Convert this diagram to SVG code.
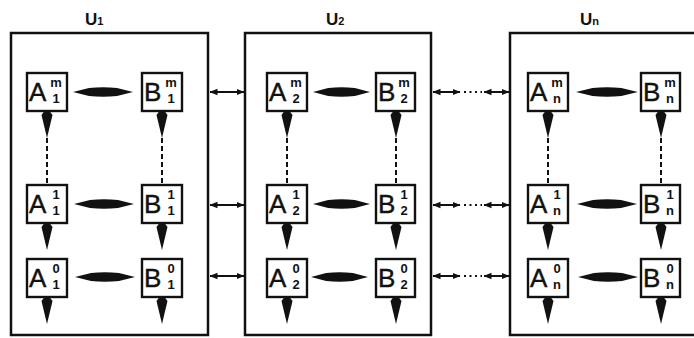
<svg xmlns="http://www.w3.org/2000/svg" xmlns:xlink="http://www.w3.org/1999/xlink" width="694" height="338" viewBox="0 0 694 338">
  <style>
    .frame { fill: none; stroke: #111; stroke-width: 2.5; }
    .cell { fill: #fff; stroke: #111; stroke-width: 2.4; }
    .big { font-family: "Liberation Sans", Arial, sans-serif; font-size: 26px; fill: #111; stroke: #111; stroke-width: 0.4; }
    .idx { font-family: "Liberation Sans", Arial, sans-serif; font-size: 13px; font-weight: bold; fill: #111; text-anchor: middle; }
    .title { font-family: "Liberation Sans", Arial, sans-serif; font-size: 17px; font-weight: bold; fill: #111; }
    .title-sub { font-size: 11px; }
    .link { stroke: #111; stroke-width: 2; fill: none; }
    .dash { stroke: #111; stroke-width: 2; stroke-dasharray: 5 3; fill: none; }
    .dots { stroke: #111; stroke-width: 2.2; stroke-dasharray: 2 3.5; fill: none; }
    .solid { fill: #111; }
  </style>
  <defs>
    <marker id="tip" viewBox="0 0 8 8" refX="7.5" refY="4" markerWidth="8" markerHeight="8" markerUnits="userSpaceOnUse" orient="auto-start-reverse">
      <path d="M0,0.8 L8,4 L0,7.2 Z" fill="#111"/>
    </marker>
    <!-- downward wedge arrow, origin at top centre -->
    <path id="down" class="solid" d="M-2.5,0 H2.5 L5.5,4 L0,27 L-5.5,4 Z"/>
    <!-- two-headed bold bar with pointed ends, origin at left tip, 60 wide -->
    <path id="lens" class="solid" d="M0,0 L16,-4 Q30,-5.5 44,-4 L60,0 L44,4 Q30,5.5 16,4 Z"/>
  </defs>

  <rect width="694" height="338" fill="#fff"/>

  <!-- unit containers -->
  <g id="unit-1">
    <rect class="frame" x="11" y="33" width="197" height="302"/>
    <text class="title" x="85" y="25">U<tspan class="title-sub">1</tspan></text>
  </g>
  <g id="unit-2">
    <rect class="frame" x="245" y="33" width="186" height="302"/>
    <text class="title" x="326" y="25">U<tspan class="title-sub">2</tspan></text>
  </g>
  <g id="unit-n">
    <rect class="frame" x="510" y="33" width="200" height="302"/>
    <text class="title" x="580" y="25">U<tspan class="title-sub">n</tspan></text>
  </g>

  <!-- cells: unit 1 -->
  <g id="A1m"><rect class="cell" x="27" y="73" width="40" height="38"/><text class="big" x="29" y="101">A</text><text class="idx" x="56" y="87">m</text><text class="idx" x="56" y="103">1</text></g>
  <g id="B1m"><rect class="cell" x="142" y="73" width="40" height="38"/><text class="big" x="144" y="101">B</text><text class="idx" x="171" y="87">m</text><text class="idx" x="171" y="103">1</text></g>
  <g id="A1-1"><rect class="cell" x="27" y="185" width="40" height="38"/><text class="big" x="29" y="213">A</text><text class="idx" x="56" y="199">1</text><text class="idx" x="56" y="215">1</text></g>
  <g id="B1-1"><rect class="cell" x="142" y="185" width="40" height="38"/><text class="big" x="144" y="213">B</text><text class="idx" x="171" y="199">1</text><text class="idx" x="171" y="215">1</text></g>
  <g id="A1-0"><rect class="cell" x="27" y="259" width="40" height="38"/><text class="big" x="29" y="287">A</text><text class="idx" x="56" y="273">0</text><text class="idx" x="56" y="289">1</text></g>
  <g id="B1-0"><rect class="cell" x="142" y="259" width="40" height="38"/><text class="big" x="144" y="287">B</text><text class="idx" x="171" y="273">0</text><text class="idx" x="171" y="289">1</text></g>

  <!-- cells: unit 2 -->
  <g id="A2m"><rect class="cell" x="267" y="73" width="40" height="38"/><text class="big" x="269" y="101">A</text><text class="idx" x="296" y="87">m</text><text class="idx" x="296" y="103">2</text></g>
  <g id="B2m"><rect class="cell" x="376" y="73" width="39" height="38"/><text class="big" x="378" y="101">B</text><text class="idx" x="404" y="87">m</text><text class="idx" x="404" y="103">2</text></g>
  <g id="A2-1"><rect class="cell" x="267" y="185" width="40" height="38"/><text class="big" x="269" y="213">A</text><text class="idx" x="296" y="199">1</text><text class="idx" x="296" y="215">2</text></g>
  <g id="B2-1"><rect class="cell" x="376" y="185" width="39" height="38"/><text class="big" x="378" y="213">B</text><text class="idx" x="404" y="199">1</text><text class="idx" x="404" y="215">2</text></g>
  <g id="A2-0"><rect class="cell" x="267" y="259" width="40" height="38"/><text class="big" x="269" y="287">A</text><text class="idx" x="296" y="273">0</text><text class="idx" x="296" y="289">2</text></g>
  <g id="B2-0"><rect class="cell" x="376" y="259" width="39" height="38"/><text class="big" x="378" y="287">B</text><text class="idx" x="404" y="273">0</text><text class="idx" x="404" y="289">2</text></g>

  <!-- cells: unit n -->
  <g id="Anm"><rect class="cell" x="528" y="73" width="40" height="38"/><text class="big" x="530" y="101">A</text><text class="idx" x="557" y="87">m</text><text class="idx" x="557" y="103">n</text></g>
  <g id="Bnm"><rect class="cell" x="641" y="73" width="39" height="38"/><text class="big" x="643" y="101">B</text><text class="idx" x="670" y="87">m</text><text class="idx" x="670" y="103">n</text></g>
  <g id="An-1"><rect class="cell" x="528" y="185" width="40" height="38"/><text class="big" x="530" y="213">A</text><text class="idx" x="557" y="199">1</text><text class="idx" x="557" y="215">n</text></g>
  <g id="Bn-1"><rect class="cell" x="641" y="185" width="39" height="38"/><text class="big" x="643" y="213">B</text><text class="idx" x="670" y="199">1</text><text class="idx" x="670" y="215">n</text></g>
  <g id="An-0"><rect class="cell" x="528" y="259" width="40" height="38"/><text class="big" x="530" y="287">A</text><text class="idx" x="557" y="273">0</text><text class="idx" x="557" y="289">n</text></g>
  <g id="Bn-0"><rect class="cell" x="641" y="259" width="39" height="38"/><text class="big" x="643" y="287">B</text><text class="idx" x="670" y="273">0</text><text class="idx" x="670" y="289">n</text></g>

  <g id="connectors">
    <!-- A/B exchange bars -->
    <use href="#lens" x="73" y="92"/>
    <use href="#lens" x="74" y="204"/>
    <use href="#lens" x="75" y="277"/>
    <use href="#lens" x="0" y="92" transform="translate(313 0) scale(0.95 1)"/>
    <use href="#lens" x="0" y="204" transform="translate(313 0) scale(0.95 1)"/>
    <use href="#lens" x="0" y="277" transform="translate(311 0) scale(0.95 1)"/>
    <use href="#lens" x="0" y="92" transform="translate(576 0) scale(1.03 1)"/>
    <use href="#lens" x="577" y="204"/>
    <use href="#lens" x="578" y="277"/>

    <!-- downward wedges -->
    <use href="#down" x="47" y="111"/><use href="#down" x="162" y="111"/>
    <use href="#down" x="47" y="223"/><use href="#down" x="162" y="223"/>
    <use href="#down" x="47" y="297"/><use href="#down" x="162" y="297"/>
    <use href="#down" x="287" y="111"/><use href="#down" x="396" y="111"/>
    <use href="#down" x="287" y="223"/><use href="#down" x="396" y="223"/>
    <use href="#down" x="287" y="297"/><use href="#down" x="396" y="297"/>
    <use href="#down" x="548" y="111"/><use href="#down" x="661" y="111"/>
    <use href="#down" x="548" y="223"/><use href="#down" x="661" y="223"/>
    <use href="#down" x="548" y="297"/><use href="#down" x="661" y="297"/>

    <!-- dashed continuation between level m and level 1 -->
    <line class="dash" x1="47" y1="138" x2="47" y2="185"/>
    <line class="dash" x1="162" y1="138" x2="162" y2="185"/>
    <line class="dash" x1="287" y1="138" x2="287" y2="185"/>
    <line class="dash" x1="396" y1="138" x2="396" y2="185"/>
    <line class="dash" x1="548" y1="138" x2="548" y2="185"/>
    <line class="dash" x1="661" y1="138" x2="661" y2="185"/>

    <!-- links between unit 1 and unit 2 -->
    <line class="link" x1="210" y1="92" x2="244" y2="92" marker-start="url(#tip)" marker-end="url(#tip)"/>
    <line class="link" x1="210" y1="205" x2="244" y2="205" marker-start="url(#tip)" marker-end="url(#tip)"/>
    <line class="link" x1="210" y1="276" x2="244" y2="276" marker-start="url(#tip)" marker-end="url(#tip)"/>

    <!-- links between unit 2 and unit n -->
    <line class="link" x1="433" y1="92" x2="460" y2="92" marker-start="url(#tip)" marker-end="url(#tip)"/>
    <line class="dots" x1="464" y1="92" x2="482" y2="92"/>
    <line class="link" x1="484" y1="92" x2="509" y2="92" marker-start="url(#tip)" marker-end="url(#tip)"/>
    <line class="link" x1="433" y1="205" x2="460" y2="205" marker-start="url(#tip)" marker-end="url(#tip)"/>
    <line class="dots" x1="464" y1="205" x2="482" y2="205"/>
    <line class="link" x1="484" y1="205" x2="509" y2="205" marker-start="url(#tip)" marker-end="url(#tip)"/>
    <line class="link" x1="433" y1="276" x2="460" y2="276" marker-start="url(#tip)" marker-end="url(#tip)"/>
    <line class="dots" x1="464" y1="276" x2="482" y2="276"/>
    <line class="link" x1="484" y1="276" x2="509" y2="276" marker-start="url(#tip)" marker-end="url(#tip)"/>
  </g>
</svg>
